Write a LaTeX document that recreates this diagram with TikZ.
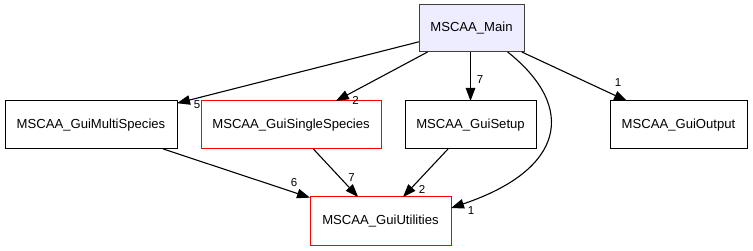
\documentclass[tikz,border=0pt]{standalone}
\usepackage{fontspec}
\setmainfont{Liberation Sans}
\usetikzlibrary{arrows.meta}
\begin{document}
\begin{tikzpicture}[x=1pt,y=-1pt,
  box/.style={draw=black,line width=1pt,inner sep=0pt,outer sep=0pt,
    minimum height=48pt,font=\fontsize{13.1}{15}\selectfont},
  redbox/.style={box,draw=red},
  mainbox/.style={box,draw=black!75,fill=blue!7,minimum height=47pt},
  dep/.style={line width=1.1pt,-{Triangle[length=13pt,width=9.5pt]}},
  cnt/.style={font=\fontsize{11.5}{13}\selectfont,inner sep=0pt}]
\useasboundingbox (0,0) rectangle (753,251);
% modules
\node[mainbox,minimum width=105pt] (main) at (471.5,28.5) {MSCAA\_Main};
\node[box,minimum width=131pt] (setup) at (470.5,125) {MSCAA\_GuiSetup};
\node[box,minimum width=172pt] (multi) at (91,125) {MSCAA\_GuiMultiSpecies};
\node[redbox,minimum width=180pt] (single) at (291,125) {MSCAA\_GuiSingleSpecies};
\node[box,minimum width=137pt] (output) at (678.5,125) {MSCAA\_GuiOutput};
\node[redbox,minimum width=141pt] (util) at (380.5,221) {MSCAA\_GuiUtilities};
% dependencies
\draw[dep] (main) -- (multi);
\draw[dep] (main) -- (single);
\draw[dep] (setup.north |- main.south) -- (setup.north);
\draw[dep] (main) -- (output);
\draw[dep] (main.-33) .. controls (578,108) and (564,170) .. (util.east |- 0,208);
\draw[dep] (multi) -- (util);
\draw[dep] (single) -- (util);
\draw[dep] (setup) -- (util);
% counts
\node[cnt] (c1) at (197,105) {5};
\node[cnt] (c2) at (355.5,100) {2};
\node[cnt] (c3) at (480,80) {7};
\node[cnt] (c4) at (618,83) {1};
\node[cnt] (c5) at (294,183) {6};
\node[cnt] (c6) at (351.5,178) {7};
\node[cnt] (c7) at (422,189) {2};
\node[cnt] (c8) at (471,211) {1};
\end{tikzpicture}
\end{document}
